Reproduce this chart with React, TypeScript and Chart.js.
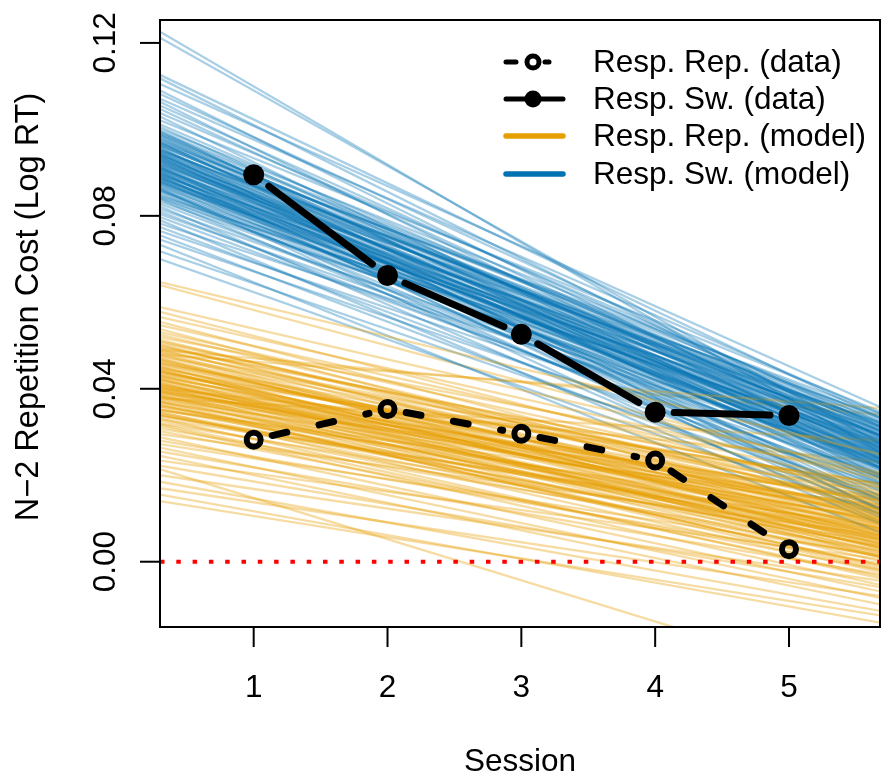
import React, { useEffect, useRef } from 'react';
import { Chart, registerables } from 'chart.js';

Chart.register(...registerables);

// ---- data ----
const sessions = [1, 2, 3, 4, 5];
const repData = [0.0282, 0.0353, 0.0296, 0.0234, 0.0029];
const swData = [0.0895, 0.0662, 0.0526, 0.0346, 0.0338];

const xTicks = [1, 2, 3, 4, 5];
const xTickLabels = ['1', '2', '3', '4', '5'];
const yTicks = [0, 0.04, 0.08, 0.12];
const yTickLabels = ['0.00', '0.04', '0.08', '0.12'];

// model posterior lines: value at session 0.3 (start) and 5.7 (end)
const modelX = [0.3, 5.7];

const swModelStart = [
  0.1226, 0.1212, 0.1126, 0.1118, 0.1105, 0.109, 0.1082, 0.1071, 0.1064, 0.1055,
  0.1047, 0.1038, 0.103, 0.1021, 0.1012, 0.1006, 0.1001, 0.0996, 0.0991, 0.0987,
  0.0983, 0.0979, 0.0975, 0.0971, 0.0968, 0.0964, 0.0961, 0.0957, 0.0954, 0.0951,
  0.0948, 0.0945, 0.0942, 0.0939, 0.0936, 0.0933, 0.093, 0.0927, 0.0924, 0.0921,
  0.0918, 0.0915, 0.0912, 0.0909, 0.0906, 0.0903, 0.09, 0.0897, 0.0894, 0.0891,
  0.0888, 0.0885, 0.0882, 0.0879, 0.0876, 0.0872, 0.0868, 0.0864, 0.086, 0.0856,
  0.0852, 0.0848, 0.0843, 0.0838, 0.0833, 0.0828, 0.0822, 0.0816, 0.081, 0.0804,
  0.0797, 0.079, 0.0782, 0.0774, 0.0765, 0.0755, 0.0745, 0.0733, 0.0718, 0.07,
  0.0962, 0.094, 0.0925, 0.091, 0.0898, 0.0887, 0.095, 0.0935, 0.0905, 0.088,
  0.0995, 0.0978, 0.0966, 0.0944, 0.0931, 0.0916, 0.0902, 0.0889, 0.0873, 0.0858,
  0.099, 0.0972, 0.0958, 0.0946, 0.0928, 0.0913, 0.0895, 0.0884, 0.0866, 0.0845,
  0.0985, 0.0969, 0.0952, 0.0938, 0.092, 0.0908, 0.0893, 0.0877, 0.0862, 0.084,
];
const swModelEnd = [
  0.025, 0.027, 0.033, 0.0285, 0.0355, 0.026, 0.031, 0.034, 0.0235, 0.03,
  0.0275, 0.032, 0.0215, 0.0345, 0.029, 0.025, 0.033, 0.0195, 0.0305, 0.027,
  0.0225, 0.0315, 0.028, 0.018, 0.034, 0.0255, 0.03, 0.021, 0.0275, 0.0325,
  0.024, 0.019, 0.0295, 0.0265, 0.015, 0.031, 0.023, 0.0285, 0.0205, 0.0335,
  0.026, 0.0175, 0.0245, 0.03, 0.022, 0.013, 0.028, 0.0235, 0.032, 0.019,
  0.0255, 0.021, 0.016, 0.029, 0.023, 0.0185, 0.0265, 0.012, 0.0245, 0.02,
  0.017, 0.0275, 0.0225, 0.014, 0.025, 0.0195, 0.01, 0.023, 0.0165, 0.0215,
  0.018, 0.0085, 0.0235, 0.015, 0.02, 0.012, 0.0175, 0.0065, 0.0145, 0.011,
  0.029, 0.0255, 0.0215, 0.027, 0.024, 0.0225, 0.031, 0.02, 0.026, 0.0235,
  0.031, 0.0235, 0.029, 0.014, 0.027, 0.032, 0.0105, 0.025, 0.0295, 0.022,
  0.026, 0.033, 0.0115, 0.03, 0.0245, 0.0135, 0.0265, 0.0305, 0.0215, 0.028,
  0.0285, 0.0215, 0.0315, 0.025, 0.029, 0.0225, 0.012, 0.027, 0.009, 0.024,
];

const repModelStart = [
  0.0647, 0.0589, 0.0578, 0.0566, 0.0555, 0.0547, 0.0538, 0.0531, 0.0525, 0.0519,
  0.0513, 0.0507, 0.0501, 0.0495, 0.0489, 0.0484, 0.0479, 0.0474, 0.0469, 0.0464,
  0.0459, 0.0455, 0.045, 0.0446, 0.0441, 0.0437, 0.0433, 0.0428, 0.0424, 0.042,
  0.0416, 0.0412, 0.0407, 0.0403, 0.0399, 0.0395, 0.0391, 0.0386, 0.0382, 0.0378,
  0.0374, 0.0369, 0.0365, 0.036, 0.0356, 0.0351, 0.0346, 0.0341, 0.0336, 0.0331,
  0.0326, 0.032, 0.0314, 0.0308, 0.0302, 0.0295, 0.0288, 0.028, 0.0272, 0.0264,
  0.0255, 0.0245, 0.0234, 0.0222, 0.0214, 0.02, 0.0185, 0.017, 0.0155, 0.014,
  0.043, 0.041, 0.0395, 0.038, 0.0445, 0.037, 0.04, 0.042, 0.0385, 0.036,
  0.064, 0.049, 0.035, 0.047, 0.033, 0.0452, 0.0438, 0.0405, 0.0392, 0.034,
  0.051, 0.0492, 0.0476, 0.0458, 0.0443, 0.0426, 0.0409, 0.0393, 0.0376, 0.0352,
  0.0503, 0.0486, 0.0467, 0.0449, 0.0432, 0.0414, 0.0398, 0.0381, 0.0363, 0.0338,
  0.0497, 0.048, 0.0462, 0.044, 0.0422, 0.0404, 0.0388, 0.037, 0.0345, 0.0318,
];
const repModelEnd = [
  0.0247, 0.0205, 0.015, 0.019, 0.012, 0.0175, 0.0095, 0.016, 0.013, 0.02,
  0.011, 0.0145, 0.0085, 0.017, 0.0125, 0.006, 0.0355, 0.014, 0.01, 0.0075,
  0.0155, 0.0115, 0.0045, 0.0135, 0.009, 0.018, 0.0065, 0.0105, 0.003, 0.012,
  0.008, 0.005, 0.014, 0.0015, 0.0095, 0.006, 0.011, 0.0025, 0.007, 0.028,
  0.004, 0.0085, -0.001, 0.0055, 0.002, 0.01, -0.0025, 0.0035, 0.0065, -0.004,
  0.001, 0.0045, -0.0055, 0.0025, -0.002, 0.006, -0.007, -0.0005, 0.0015, -0.0085,
  -0.003, -0.01, 0.0005, -0.006, -0.03, -0.0045, -0.0115, -0.008, -0.0142, -0.0125,
  0.007, 0.0035, 0.012, -0.0015, 0.001, 0.005, 0.023, 0.009, 0.0, 0.0075,
  0.0195, 0.034, 0.013, 0.0055, 0.008, 0.004, 0.01, 0.003, 0.015, 0.001,
  0.013, 0.0075, 0.0165, 0.0105, 0.004, 0.014, 0.0085, 0.001, 0.0115, 0.005,
  0.009, 0.0155, 0.006, 0.012, 0.018, 0.003, 0.0095, 0.0145, -0.001, 0.007,
  0.017, 0.005, 0.011, 0.0075, 0.002, 0.0125, 0.0055, -0.002, 0.0035, -0.0035,
];

const legendLabels = [
  'Resp. Rep. (data)',
  'Resp. Sw. (data)',
  'Resp. Rep. (model)',
  'Resp. Sw. (model)',
];

const ORANGE = '#E69F00';
const BLUE = '#0072B2';
const ORANGE_T = 'rgba(230,159,0,0.36)';
const BLUE_T = 'rgba(0,114,178,0.34)';
const FONT = '"Liberation Sans", Arial, Helvetica, sans-serif';

export default function App() {
  const ref = useRef<HTMLCanvasElement | null>(null);

  useEffect(() => {
    const canvas = ref.current;
    if (!canvas) return;

    // Chart.js draws lower `order` on top
    const datasets: any[] = [];
    const repIdx = 0;
    datasets.push({
      data: sessions.map((s, i) => ({ x: s, y: repData[i] })),
      showLine: false,
      pointRadius: 7,
      pointBorderWidth: 6,
      pointBorderColor: '#000',
      pointBackgroundColor: 'rgba(0,0,0,0)',
      clip: false,
      order: 0,
    });
    const swIdx = 1;
    datasets.push({
      data: sessions.map((s, i) => ({ x: s, y: swData[i] })),
      showLine: false,
      pointRadius: 10.5,
      pointBorderWidth: 0,
      pointBackgroundColor: '#000',
      clip: false,
      order: 0,
    });
    // zero reference line
    datasets.push({
      data: [
        { x: modelX[0], y: 0 },
        { x: modelX[1], y: 0 },
      ],
      showLine: true,
      borderColor: '#FF0000',
      borderWidth: 4,
      borderDash: [4.5, 11.8],
      borderCapStyle: 'butt',
      pointRadius: 0,
      clip: 0,
      order: 1,
    });
    const n = Math.max(swModelStart.length, repModelStart.length);
    for (let i = 0; i < n; i++) {
      if (i < swModelStart.length) {
        datasets.push({
          data: [
            { x: modelX[0], y: swModelStart[i] },
            { x: modelX[1], y: swModelEnd[i] },
          ],
          showLine: true,
          borderColor: BLUE_T,
          borderWidth: 2.3,
          pointRadius: 0,
          clip: 0,
          order: 2,
        });
      }
      if (i < repModelStart.length) {
        datasets.push({
          data: [
            { x: modelX[0], y: repModelStart[i] },
            { x: modelX[1], y: repModelEnd[i] },
          ],
          showLine: true,
          borderColor: ORANGE_T,
          borderWidth: 2.3,
          pointRadius: 0,
          clip: 0,
          order: 2,
        });
      }
    }

    const gapped = (ctx: CanvasRenderingContext2D, pts: any[], dash: number[]) => {
      const g = 19;
      ctx.save();
      ctx.strokeStyle = '#000';
      ctx.lineWidth = 7;
      ctx.lineCap = 'round';
      for (let i = 0; i < pts.length - 1; i++) {
        const a = pts[i];
        const b = pts[i + 1];
        const dx = b.x - a.x;
        const dy = b.y - a.y;
        const len = Math.sqrt(dx * dx + dy * dy);
        const ux = dx / len;
        const uy = dy / len;
        ctx.setLineDash(dash);
        ctx.lineDashOffset = 0;
        ctx.beginPath();
        ctx.moveTo(a.x + ux * g, a.y + uy * g);
        ctx.lineTo(b.x - ux * g, b.y - uy * g);
        ctx.stroke();
      }
      ctx.restore();
    };

    const decor = {
      id: 'rdecor',
      afterDatasetsDraw(chart: any) {
        const ctx = chart.ctx as CanvasRenderingContext2D;
        gapped(ctx, chart.getDatasetMeta(repIdx).data, [15, 33]);
        gapped(ctx, chart.getDatasetMeta(swIdx).data, []);
      },
      afterDraw(chart: any) {
        const ctx = chart.ctx as CanvasRenderingContext2D;
        const xs = chart.scales.x;
        const ys = chart.scales.y;
        const area = chart.chartArea;
        ctx.save();
        ctx.strokeStyle = '#000';
        ctx.fillStyle = '#000';
        ctx.lineWidth = 2;
        ctx.setLineDash([]);
        // box
        ctx.strokeRect(area.left, area.top, area.right - area.left, area.bottom - area.top);
        // x ticks
        ctx.font = `31.5px ${FONT}`;
        ctx.textAlign = 'center';
        ctx.textBaseline = 'alphabetic';
        xTicks.forEach((t, i) => {
          const px = xs.getPixelForValue(t);
          ctx.beginPath();
          ctx.moveTo(px, area.bottom);
          ctx.lineTo(px, area.bottom + 20);
          ctx.stroke();
          ctx.fillText(xTickLabels[i], px, 697);
        });
        // y ticks
        yTicks.forEach((t, i) => {
          const py = ys.getPixelForValue(t);
          ctx.beginPath();
          ctx.moveTo(area.left, py);
          ctx.lineTo(area.left - 20, py);
          ctx.stroke();
          ctx.save();
          ctx.translate(115, py);
          ctx.rotate(-Math.PI / 2);
          ctx.fillText(yTickLabels[i], 0, 0);
          ctx.restore();
        });
        // axis titles
        ctx.fillText('Session', (area.left + area.right) / 2, 771);
        ctx.save();
        ctx.font = `32.5px ${FONT}`;
        ctx.translate(38, 307);
        ctx.rotate(-Math.PI / 2);
        ctx.fillText('N\u22122 Repetition Cost (Log RT)', 0, 0);
        ctx.restore();

        // legend
        const rows = [62, 99, 136, 174];
        const lx0 = 506;
        const lx1 = 563;
        const cx = 533;
        ctx.lineCap = 'round';
        // row 0: dashed with open circle
        ctx.lineWidth = 5;
        ctx.beginPath();
        ctx.moveTo(506, rows[0]);
        ctx.lineTo(516, rows[0]);
        ctx.moveTo(545, rows[0]);
        ctx.lineTo(549, rows[0]);
        ctx.stroke();
        ctx.beginPath();
        ctx.arc(cx, rows[0], 6, 0, Math.PI * 2);
        ctx.stroke();
        // row 1: solid with filled circle
        ctx.beginPath();
        ctx.moveTo(lx0, rows[1]);
        ctx.lineTo(lx1, rows[1]);
        ctx.stroke();
        ctx.beginPath();
        ctx.arc(cx, rows[1], 8.5, 0, Math.PI * 2);
        ctx.fill();
        // rows 2,3: model colours
        ctx.lineWidth = 5.5;
        ctx.strokeStyle = ORANGE;
        ctx.beginPath();
        ctx.moveTo(lx0, rows[2]);
        ctx.lineTo(lx1, rows[2]);
        ctx.stroke();
        ctx.strokeStyle = BLUE;
        ctx.beginPath();
        ctx.moveTo(lx0, rows[3]);
        ctx.lineTo(lx1, rows[3]);
        ctx.stroke();
        ctx.fillStyle = '#000';
        ctx.textAlign = 'left';
        ctx.textBaseline = 'middle';
        legendLabels.forEach((l, i) => {
          ctx.fillText(l, 593, rows[i] + 1);
        });
        ctx.restore();
      },
    };

    const chart = new Chart(canvas, {
      type: 'scatter',
      data: { datasets },
      options: {
        animation: false,
        responsive: false,
        devicePixelRatio: 1,
        events: [],
        layout: { autoPadding: false, padding: { left: 160, top: 20, right: 1, bottom: 149 } },
        plugins: { legend: { display: false }, tooltip: { enabled: false } },
        scales: {
          x: { type: 'linear', min: 0.3, max: 5.68, display: false },
          y: { type: 'linear', min: -0.0151, max: 0.1253, display: false },
        },
      },
      plugins: [decor],
    });
    return () => chart.destroy();
  }, []);

  return (
    <div style={{ position: 'absolute', left: 0, top: 0, width: 881, height: 776, background: '#fff' }}>
      <canvas ref={ref} width={881} height={776} style={{ width: 881, height: 776, display: 'block' }} />
    </div>
  );
}
